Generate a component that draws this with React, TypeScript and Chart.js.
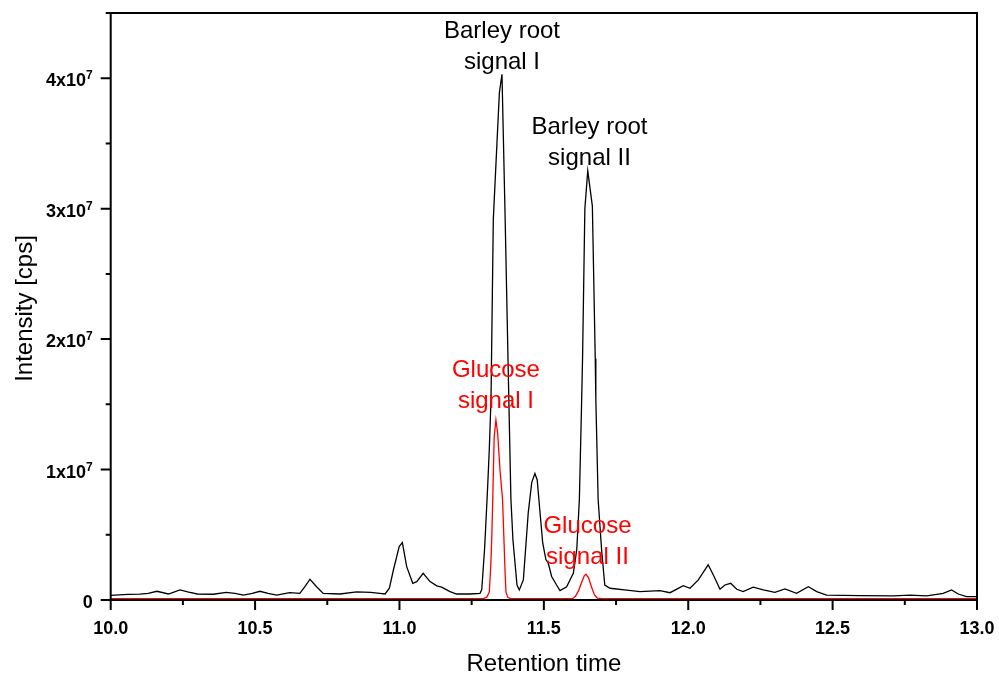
import React, { useEffect, useRef } from 'react';
import { Chart, registerables } from 'chart.js';
Chart.register(...registerables);

// Barley root extract chromatogram (retention time [min], intensity [cps])
const barleyTime = [
  10.0, 10.03, 10.06, 10.1, 10.13, 10.16, 10.2, 10.24, 10.27, 10.3, 10.355, 10.4, 10.43, 10.46, 10.49,
  10.517, 10.545, 10.575, 10.62, 10.655, 10.675, 10.69, 10.713, 10.736, 10.794, 10.852, 10.9, 10.932,
  10.95, 10.965, 10.979, 10.999, 11.01, 11.025, 11.046, 11.06, 11.082, 11.106, 11.129, 11.146, 11.175,
  11.198, 11.244, 11.279, 11.285, 11.295, 11.305, 11.311, 11.317, 11.325, 11.346, 11.355, 11.366, 11.38,
  11.386, 11.393, 11.407, 11.415, 11.429, 11.446, 11.458, 11.469, 11.477, 11.486, 11.496, 11.507, 11.515,
  11.527, 11.544, 11.556, 11.579, 11.602, 11.614, 11.623, 11.631, 11.634, 11.642, 11.652, 11.668, 11.678,
  11.68, 11.688, 11.7, 11.711, 11.729, 11.787, 11.833, 11.902, 11.937, 11.983, 12.006, 12.035, 12.069,
  12.087, 12.11, 12.127, 12.147, 12.168, 12.19, 12.225, 12.26, 12.3, 12.335, 12.375, 12.416, 12.445,
  12.479, 12.595, 12.71, 12.768, 12.826, 12.883, 12.912, 12.935, 12.964, 13.0,
];
const barleyIntensity = [
  3.6e5, 4.0e5, 4.3e5, 4.5e5, 5.0e5, 6.7e5, 4.6e5, 7.7e5, 6.0e5, 4.6e5, 4.4e5, 5.9e5, 5.0e5, 3.8e5, 5.0e5,
  6.7e5, 5.0e5, 3.8e5, 5.6e5, 5.1e5, 1.1e6, 1.59e6, 1.02e6, 5.1e5, 4.6e5, 6.2e5, 5.9e5, 5.1e5,
  4.6e5, 9.0e5, 2.3e6, 4.1e6, 4.4e6, 2.56e6, 1.28e6, 1.41e6, 2.05e6, 1.41e6, 1.08e6, 9.8e5, 6.4e5,
  4.6e5, 4.6e5, 5.1e5, 8.0e5, 4.0e6, 8.5e6, 1.15e7, 1.54e7, 2.92e7, 3.89e7, 4.03e7, 2.92e7, 1.4e7,
  7.7e6, 4.6e6, 1.15e6, 7.7e5, 1.54e6, 6.7e6, 9.0e6, 9.7e6, 9.2e6, 6.9e6, 4.4e6, 3.1e6, 2.85e6,
  1.8e6, 1.15e6, 7.2e5, 1.02e6, 2.05e6, 3.85e6, 7.7e6, 1.54e7, 1.85e7, 3.0e7, 3.29e7, 3.02e7, 1.85e7,
  1.54e7, 7.7e6, 3.85e6, 1.15e6, 9.0e5, 7.5e5, 6.4e5, 7.2e5, 5.6e5, 1.1e6, 9.0e5, 1.54e6, 2.7e6,
  1.92e6, 8.2e5, 1.15e6, 1.28e6, 8.2e5, 6.4e5, 9.8e5, 7.7e5, 5.9e5, 8.5e5, 5.1e5, 1.02e6, 6.4e5,
  3.8e5, 3.3e5, 3.1e5, 3.8e5, 3.1e5, 5.1e5, 7.7e5, 4.6e5, 2.6e5, 2.6e5,
];

// Glucose standard chromatogram
const glucoseTime = [
  10.0, 10.5, 11.0, 11.29, 11.302, 11.311, 11.316, 11.32, 11.323, 11.328, 11.334, 11.34, 11.348, 11.357,
  11.362, 11.366, 11.369, 11.375, 11.385, 11.6, 11.61, 11.62, 11.63, 11.64, 11.646, 11.655, 11.665,
  11.675, 11.685, 11.7, 12.0, 12.5, 13.0,
];
const glucoseIntensity = [
  1.0e5, 1.0e5, 1.0e5, 1.0e5, 2.0e5, 6.0e5, 2.5e6, 5.0e6, 7.7e6, 1.25e7, 1.38e7, 1.28e7, 1.0e7, 7.7e6,
  4.5e6, 2.0e6, 6.0e5, 2.0e5, 1.0e5, 1.0e5, 3.0e5, 7.0e5, 1.3e6, 1.85e6, 1.98e6, 1.7e6, 1.0e6,
  4.0e5, 1.5e5, 1.0e5, 1.0e5, 1.0e5, 1.0e5,
];

const xMajorTicks = [10.0, 10.5, 11.0, 11.5, 12.0, 12.5, 13.0];
const xTickLabels = ['10.0', '10.5', '11.0', '11.5', '12.0', '12.5', '13.0'];
const xMinorTicks = [10.25, 10.75, 11.25, 11.75, 12.25, 12.75];
const yMajorTicks = [0, 1e7, 2e7, 3e7, 4e7];
const yTickMantissa = ['0', '1x10', '2x10', '3x10', '4x10'];
const yTickExponent = ['', '7', '7', '7', '7'];
const yMinorTicks = [0.5e7, 1.5e7, 2.5e7, 3.5e7, 4.5e7];

const xTitle = 'Retention time';
const yTitle = 'Intensity [cps]';

const noteLines = [
  ['Barley root', 'signal I'],
  ['Barley root', 'signal II'],
  ['Glucose', 'signal I'],
  ['Glucose', 'signal II'],
];
const noteX = [11.355, 11.658, 11.334, 11.651];
const noteY = [4.305e7, 3.576e7, 1.71e7, 5.1e6];
const noteColors = ['#000000', '#000000', '#ff0000', '#ff0000'];

const FONT = '"Liberation Sans", Arial, sans-serif';

const axesPlugin = {
  id: 'customAxes',
  afterDraw(chart: any) {
    const { ctx, chartArea: a, scales } = chart;
    const xs = scales.x;
    const ys = scales.y;
    ctx.save();
    ctx.strokeStyle = '#000';
    ctx.fillStyle = '#000';
    ctx.lineWidth = 2;
    ctx.strokeRect(a.left, a.top, a.right - a.left, a.bottom - a.top);

    // x ticks
    ctx.beginPath();
    xMajorTicks.forEach((v) => {
      const px = xs.getPixelForValue(v);
      ctx.moveTo(px, a.bottom);
      ctx.lineTo(px, a.bottom + 10);
    });
    xMinorTicks.forEach((v) => {
      const px = xs.getPixelForValue(v);
      ctx.moveTo(px, a.bottom);
      ctx.lineTo(px, a.bottom + 5);
    });
    yMajorTicks.forEach((v) => {
      const py = ys.getPixelForValue(v);
      ctx.moveTo(a.left, py);
      ctx.lineTo(a.left - 10, py);
    });
    yMinorTicks.forEach((v) => {
      const py = ys.getPixelForValue(v);
      ctx.moveTo(a.left, py);
      ctx.lineTo(a.left - 5, py);
    });
    ctx.stroke();

    // x tick labels
    ctx.font = `bold 18px ${FONT}`;
    ctx.textAlign = 'center';
    ctx.textBaseline = 'alphabetic';
    xMajorTicks.forEach((v, i) => {
      ctx.fillText(xTickLabels[i], xs.getPixelForValue(v), a.bottom + 33.5);
    });

    // y tick labels with superscript exponents
    const rightEdge = a.left - 18;
    yMajorTicks.forEach((v, i) => {
      const py = ys.getPixelForValue(v);
      const exp = yTickExponent[i];
      ctx.font = `bold 12px ${FONT}`;
      const ew = exp ? ctx.measureText(exp).width : 0;
      if (exp) {
        ctx.textAlign = 'right';
        ctx.fillText(exp, rightEdge, py + 1);
      }
      ctx.font = `bold 18px ${FONT}`;
      ctx.textAlign = 'right';
      ctx.fillText(yTickMantissa[i], rightEdge - ew, py + 8);
    });

    // axis titles
    ctx.font = `24px ${FONT}`;
    ctx.textAlign = 'center';
    ctx.textBaseline = 'middle';
    ctx.fillText(xTitle, (a.left + a.right) / 2, 664);
    ctx.save();
    ctx.translate(25, (a.top + a.bottom) / 2 + 2);
    ctx.rotate(-Math.PI / 2);
    ctx.fillText(yTitle, 0, 0);
    ctx.restore();

    // annotations
    ctx.font = `24px ${FONT}`;
    ctx.textAlign = 'center';
    ctx.textBaseline = 'alphabetic';
    noteLines.forEach((lines, i) => {
      const px = xs.getPixelForValue(noteX[i]);
      const py = ys.getPixelForValue(noteY[i]);
      ctx.fillStyle = noteColors[i];
      lines.forEach((t, j) => ctx.fillText(t, px, py + j * 31));
    });
    ctx.restore();
  },
};

export default function App() {
  const ref = useRef<HTMLCanvasElement | null>(null);
  useEffect(() => {
    if (!ref.current) return;
    const chart = new Chart(ref.current, {
      type: 'line',
      data: {
        datasets: [
          {
            label: 'Barley root',
            data: barleyTime.map((t, i) => ({ x: t, y: barleyIntensity[i] })),
            borderColor: '#000000',
            borderWidth: 1.3,
            pointRadius: 0,
            tension: 0,
          },
          {
            label: 'Glucose',
            data: glucoseTime.map((t, i) => ({ x: t, y: glucoseIntensity[i] })),
            borderColor: '#ff0000',
            borderWidth: 1.3,
            pointRadius: 0,
            tension: 0,
          },
        ],
      },
      options: {
        responsive: false,
        maintainAspectRatio: false,
        animation: false,
        layout: { padding: { left: 110.7, right: 22, top: 13, bottom: 76 } },
        scales: {
          x: { type: 'linear', min: 10, max: 13, display: false },
          y: { type: 'linear', min: 0, max: 4.5e7, display: false },
        },
        plugins: { legend: { display: false }, tooltip: { enabled: false } },
      },
      plugins: [axesPlugin],
    });
    return () => chart.destroy();
  }, []);
  return (
    <div style={{ position: 'absolute', left: 0, top: 0, width: 999, height: 676, background: '#fff' }}>
      <canvas ref={ref} width={999} height={676} style={{ width: 999, height: 676 }} />
    </div>
  );
}
